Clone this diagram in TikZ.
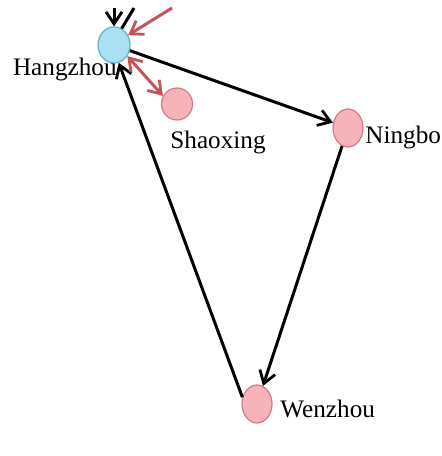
\documentclass[tikz,border=0pt]{standalone}
\usepackage{fontspec}
\setmainfont{Liberation Serif}
\usetikzlibrary{shapes.geometric, arrows.meta}

\definecolor{bluefill}{RGB}{170,225,242}
\definecolor{blueline}{RGB}{105,175,205}
\definecolor{pinkfill}{RGB}{246,180,186}
\definecolor{pinkline}{RGB}{212,122,132}
\definecolor{redarrow}{RGB}{196,84,88}

\tikzset{
	city/.style={ellipse, draw=pinkline, fill=pinkfill, line width=0.6pt, minimum width=15pt, minimum height=19pt, inner sep=0pt},
	hub/.style={city, draw=blueline, fill=bluefill, minimum width=16pt, minimum height=18pt},
	cityname/.style={inner sep=0pt, font=\fontsize{12.6}{14}\selectfont},
	barb/.tip={Straight Barb[length=6pt, width=8pt, line width=1.4pt]},
	route/.style={line width=1.5pt, -barb},
	redroute/.style={route, draw=redarrow},
	tworoute/.style={line width=1.5pt, draw=redarrow, barb-barb}
}

\begin{document}
\begin{tikzpicture}[x=0.5pt, y=-0.5pt]
	\useasboundingbox (0,0) rectangle (441,456);
	
	%circles
	\node[hub] (hangzhou) at (114,45) {};
	\node[city, minimum width=15.5pt, minimum height=16pt] (shaoxing) at (177,104) {};
	\node[city] (ningbo) at (348,128) {};
	\node[city] (wenzhou) at (257,404) {};
	
	%labels
	\node[cityname, anchor=base east] (hangzhoutext) at (117,75) {Hangzhou};
	\node[cityname, anchor=base west] (shaoxingtext) at (170,148) {Shaoxing};
	\node[cityname, anchor=base west] (ningbotext) at (365,143) {Ningbo};
	\node[cityname, anchor=base west] (wenzhoutext) at (280,417) {Wenzhou};
	
	%loose ends at the top
	\coordinate (blackin) at (114,8);
	\coordinate (blackout) at (134,8);
	\coordinate (redin) at (172,8);
	
	%lines
	\draw[route] (blackin) -- (hangzhou.north);
	\draw[line width=1.5pt] (hangzhou.65) -- (blackout);
	\draw[redroute] (redin) -- (hangzhou.35);
	\draw[route] (hangzhou) -- (ningbo);
	\draw[route] (ningbo) -- (wenzhou);
	\draw[route] (wenzhou.155) -- (hangzhou.-75);
	\draw[tworoute] (hangzhou.-40) -- (shaoxing.150);
	
	%\draw[help lines] (0,0) grid (441,456);
\end{tikzpicture}
\end{document}
